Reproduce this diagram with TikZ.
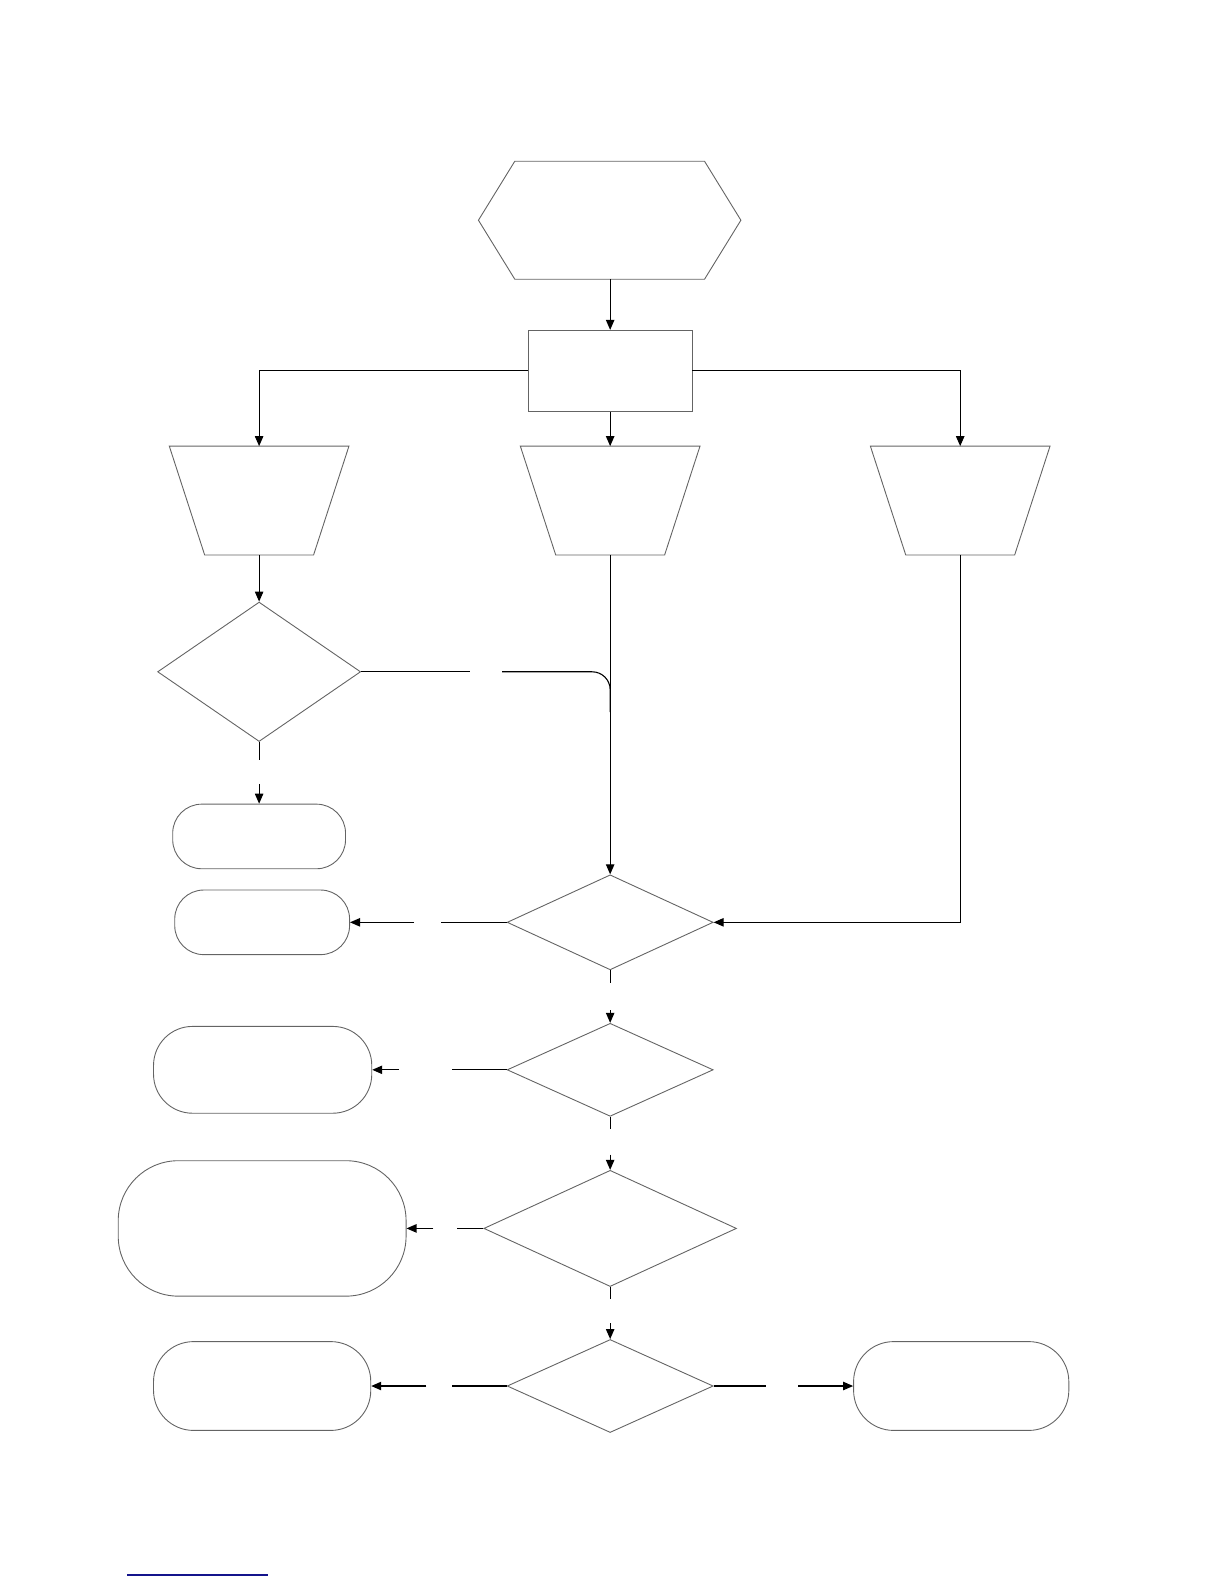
\documentclass[tikz,border=0pt]{standalone}
\usetikzlibrary{shapes.geometric,arrows.meta,calc}
\definecolor{shapegray}{RGB}{100,100,100}
\definecolor{rulebl}{RGB}{20,20,140}
\begin{document}
\begin{tikzpicture}[x=0.505pt,y=-0.505pt,
  outl/.style={draw=shapegray,line width=0.45pt},
  box/.style={draw=none,inner sep=0pt,minimum width=#1},
  dia/.style 2 args={diamond,outl,inner sep=0pt,minimum width=#1,minimum height=#2},
  pill/.style n args={3}{rectangle,outl,inner sep=0pt,minimum width=#1,minimum height=#2,rounded corners=#3},
  conn/.style={draw=black,line width=0.55pt},
  arr/.style={conn,-{Triangle[length=5pt,width=4.2pt]}}]
\useasboundingbox (0,0) rectangle (1212,1568);

% hexagon
\node[box=130.8pt,minimum height=58.6pt] (hex) at (603.5,218) {};
\draw[outl] (hex.west) -- ($(hex.north west)+(36,0)$) -- ($(hex.north east)+(-36,0)$) -- (hex.east) -- ($(hex.south east)+(-36,0)$) -- ($(hex.south west)+(36,0)$) -- cycle;

% process box
\node[rectangle,outl,inner sep=0pt,minimum width=81.8pt,minimum height=40.4pt] (proc) at (604,367) {};

% trapezoids
\foreach \n/\cx in {trapA/256.5,trapB/604,trapC/950.5}{
  \node[box=89.4pt,minimum height=54pt] (\n) at (\cx,495.5) {};
  \draw[outl] (\n.north west) -- (\n.north east) -- ($(\n.south east)+(-35,0)$) -- ($(\n.south west)+(35,0)$) -- cycle;
}

% decisions
\node[dia={101.5pt}{69.7pt}] (dA) at (256.5,665) {};
\node[dia={103pt}{47.5pt}] (dB) at (604,913) {};
\node[dia={103pt}{46.5pt}] (dC) at (604,1059) {};
\node[dia={126.3pt}{58.1pt}] (dD) at (604,1216) {};
\node[dia={103pt}{46.5pt}] (dE) at (604,1372) {};

% terminals
\node[pill={86.4pt}{32.3pt}{14.5pt}] (tA) at (256.5,828) {};
\node[pill={87.4pt}{32.3pt}{14.5pt}] (tB) at (259.5,913) {};
\node[pill={109.1pt}{43.4pt}{19.5pt}] (tC) at (260,1059) {};
\node[pill={143.9pt}{67.7pt}{30pt}] (tD) at (259.5,1216) {};
\node[pill={108.6pt}{44.4pt}{20pt}] (tE) at (259.5,1372) {};
\node[pill={107.6pt}{44.4pt}{20pt}] (tF) at (951.5,1372) {};

% gap coordinates
\coordinate (gA1) at (256.5,752); \coordinate (gA2) at (256.5,776);
\coordinate (gM1) at (465,665);   \coordinate (gM2) at (497,665);
\coordinate (gM3) at (604,665);   \coordinate (gM4) at (604,705);
\coordinate (gB1) at (437,913);   \coordinate (gB2) at (410,913);
\coordinate (gS1) at (604,973);   \coordinate (gS2) at (604,1000);
\coordinate (gC1) at (447,1059);  \coordinate (gC2) at (395,1059);
\coordinate (gS3) at (604,1118);  \coordinate (gS4) at (604,1143);
\coordinate (gD1) at (452,1216);  \coordinate (gD2) at (429,1216);
\coordinate (gS5) at (604,1286);  \coordinate (gS6) at (604,1310);
\coordinate (gE1) at (447,1372);  \coordinate (gE2) at (422,1372);
\coordinate (gF1) at (758,1372);  \coordinate (gF2) at (790,1372);

% connectors
\draw[arr] (hex.south -| proc.north) -- (proc.north);
\draw[arr] (proc.west) -| (trapA.north);
\draw[arr] (proc.east) -| (trapC.north);
\draw[arr] (proc.south) -- (trapB.north);
\draw[arr] (trapA.south) -- (dA.north);
\draw[conn] (dA.south) -- (gA1);
\draw[arr] (gA2) -- (tA.north);
\draw[conn] (dA.east) -- (gM1);
\draw[conn,rounded corners=9] (gM2) -- (gM3) -- (gM4);
\draw[arr] (trapB.south) -- (dB.north);
\draw[arr] (trapC.south) |- (dB.east);
\draw[conn] (dB.west) -- (gB1);
\draw[arr] (gB2) -- (tB.east);
\draw[conn] (dB.south) -- (gS1);
\draw[arr] (gS2) -- (dC.north);
\draw[conn] (dC.west) -- (gC1);
\draw[arr] (gC2) -- (tC.east);
\draw[conn] (dC.south) -- (gS3);
\draw[arr] (gS4) -- (dD.north);
\draw[conn] (dD.west) -- (gD1);
\draw[arr] (gD2) -- (tD.east);
\draw[conn] (dD.south) -- (gS5);
\draw[arr] (gS6) -- (dE.north);
\draw[conn] (dE.west) -- (gE1);
\draw[arr] (gE2) -- (tE.east);
\draw[conn] (dE.east) -- (gF1);
\draw[arr] (gF2) -- (tF.west);

% rule at bottom left
\draw[rulebl,line width=0.6pt] (126,1559) -- (265,1559);
\end{tikzpicture}
\end{document}
